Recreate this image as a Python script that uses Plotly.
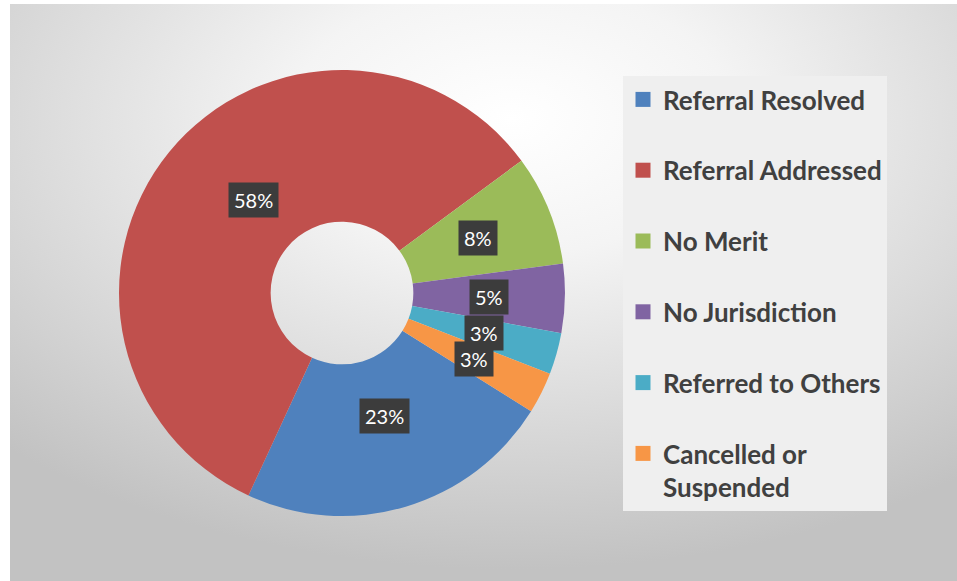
import base64
import math
import plotly.graph_objects as go

# datos del grafico
categories = ["Referral Resolved", "Referral Addressed", "No Merit",
              "No Jurisdiction", "Referred to Others", "Cancelled or Suspended"]
legend_names = ["Referral Resolved", "Referral Addressed", "No Merit",
                "No Jurisdiction", "Referred to Others", "Cancelled or<br>Suspended"]
shares = [23, 58, 8, 5, 3, 3]
colors = ["#4F81BD", "#C0504D", "#9BBB59", "#8064A2", "#4BACC6", "#F79646"]

W, H = 957, 581
pie_x = [0.1243, 0.5904]
pie_y = [0.1119, 0.8795]
hole = 0.32
rotation = 122

# fondo con degradado radial (svg embebido como imagen)
svg = """<svg xmlns="http://www.w3.org/2000/svg" width="947" height="577" viewBox="0 0 947 577" preserveAspectRatio="none">
<defs><radialGradient id="g" cx="0.53" cy="0.2" r="0.78">
<stop offset="0" stop-color="#ffffff"/>
<stop offset="0.3" stop-color="#f4f4f4"/>
<stop offset="1" stop-color="#c2c2c2"/>
</radialGradient></defs>
<rect width="947" height="577" fill="url(#g)"/>
</svg>"""
bg_src = "data:image/svg+xml;base64," + base64.b64encode(svg.encode()).decode()

fig = go.Figure()
fig.add_trace(go.Pie(
    labels=categories,
    values=shares,
    sort=False,
    direction="clockwise",
    rotation=rotation,
    hole=hole,
    marker=dict(colors=colors, line=dict(width=0)),
    textinfo="none",
    showlegend=False,
    domain=dict(x=pie_x, y=pie_y),
))

# leyenda: una entrada por categoria
for name, color in zip(legend_names, colors):
    fig.add_trace(go.Scatter(
        x=[None], y=[None], mode="markers", name=name, legendgroup=name,
        marker=dict(symbol="square", size=15, color=color),
    ))

# etiquetas de porcentaje en el centro del anillo
cx = (pie_x[0] + pie_x[1]) / 2 * W
cy = (1 - (pie_y[0] + pie_y[1]) / 2) * H
r_out = min((pie_x[1] - pie_x[0]) * W, (pie_y[1] - pie_y[0]) * H) / 2
r_mid = r_out * (1 + hole) / 2
total = sum(shares)
angle = rotation
for v in shares:
    mid = math.radians(angle + 180 * v / total)
    px_ = cx + r_mid * math.sin(mid)
    py_ = cy - r_mid * math.cos(mid)
    fig.add_annotation(
        x=px_ / W, y=1 - py_ / H, xref="paper", yref="paper",
        text=f"{v}%", showarrow=False,
        font=dict(family="Lato", size=20, color="white"),
        bgcolor="#3c3c3c", borderpad=5,
    )
    angle += 360 * v / total

fig.update_layout(
    width=W, height=H,
    margin=dict(l=0, r=0, t=0, b=0),
    paper_bgcolor="white",
    plot_bgcolor="rgba(0,0,0,0)",
    xaxis=dict(visible=False),
    yaxis=dict(visible=False),
    images=[dict(source=bg_src, xref="paper", yref="paper",
                 x=10 / W, y=1 - 4 / H, sizex=947 / W, sizey=577 / H,
                 xanchor="left", yanchor="top", sizing="stretch", layer="below")],
    legend=dict(
        x=623 / W, y=1 - 76 / H, xanchor="left", yanchor="top",
        bgcolor="#efefef", valign="top", tracegroupgap=34, itemwidth=30,
        font=dict(family="Lato", size=26, color="#404040", weight="bold"),
    ),
)

fig.write_html("out.html", config={"displayModeBar": False},
               post_script="document.body.style.margin='0px';")
